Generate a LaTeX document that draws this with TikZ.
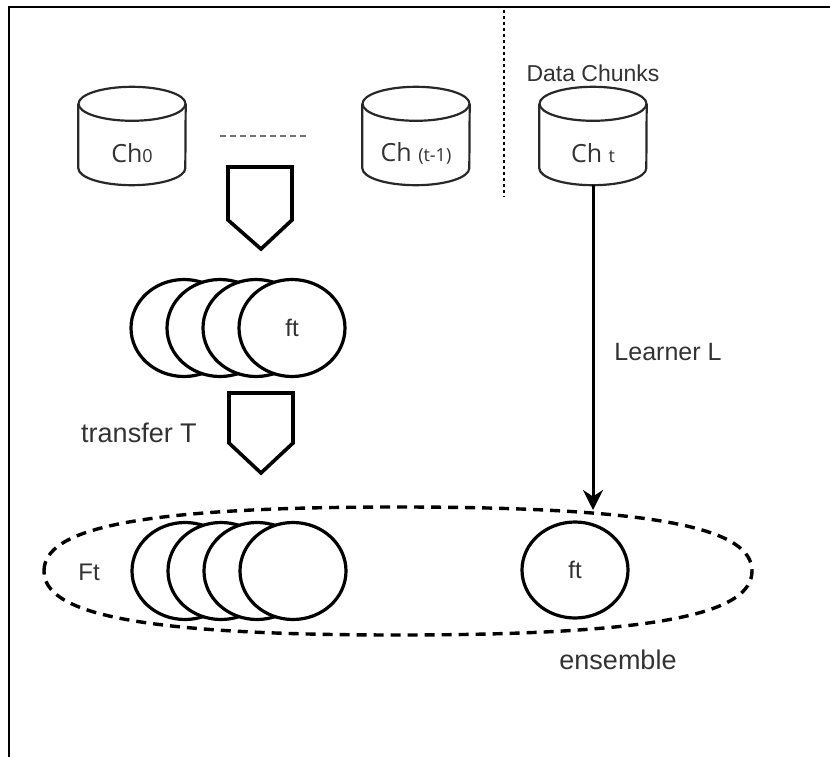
\documentclass[tikz,border=0pt]{standalone}
\usepackage{fontspec}
\setmainfont{Liberation Sans}
\newfontfamily\chfont{Open Sans}
\usetikzlibrary{shapes.geometric,arrows.meta,calc}

\definecolor{txtgray}{RGB}{50,50,50}
\definecolor{drumgray}{RGB}{40,40,40}

% outline of a data chunk drawn round a node of style chunk
\newcommand{\chunkdrum}[1]{%
  \draw[drum] ($(#1.north)+(0,17)$) ellipse [x radius=53.5, y radius=17];
  \draw[drum] ($(#1.north west)+(0,17)$) -- ($(#1.south west)+(0,17)$)
    arc [start angle=180, end angle=360, x radius=53.5, y radius=17]
    -- ($(#1.north east)+(0,17)$);
}

\begin{document}
\begin{tikzpicture}[x=1pt,y=1pt,
  chunk/.style={minimum width=107pt, minimum height=64pt, inner sep=0pt,
    text=txtgray, font=\chfont\fontsize{25}{30}\selectfont},
  drum/.style={draw=drumgray, line width=2.2pt},
  model/.style={ellipse, draw, line width=3.2pt, fill=white, inner sep=0pt,
    minimum width=106pt, minimum height=97pt, text=txtgray,
    font=\fontsize{24}{28}\selectfont},
  block/.style={draw, line width=3.6pt, fill=white, line join=miter},
  lbl/.style={text=txtgray, inner sep=0pt},
  ens/.style={draw, line width=3.4pt, dash pattern=on 10pt off 7pt}]

\useasboundingbox (0,0) rectangle (830,-757);

% frame
\draw [line width=2.4pt] (9,-757) -- (9,-7) -- (830,-7);

% data chunks
\node [chunk] (ch0) at (132,-153) {Ch{\fontsize{18}{20}\selectfont 0}};
\node [chunk] (ch1) at (416,-153) {Ch {\fontsize{18}{20}\selectfont (t-1)}};
\node [chunk] (cht) at (593,-153) {Ch {\fontsize{18}{20}\selectfont t}};
\chunkdrum{ch0}
\chunkdrum{ch1}
\chunkdrum{cht}

\draw [black!55, line width=2pt, dash pattern=on 6pt off 4pt] (220,-136) -- (310,-136);
\draw [line width=1.8pt, dash pattern=on 3pt off 3pt] (504,-10) -- (504,-197);
\node [lbl, font=\fontsize{23}{27}\selectfont] (datalbl) at (593,-73) {Data Chunks};

% first block arrow
\draw [block] (228,-167) -- (292,-167) -- (292,-220) -- (261,-249) -- (228,-220) -- cycle;

% old models
\foreach \i in {0,1,2}
  \node [model] (top\i) at (184+36*\i,-328) {};
\node [model] (top3) at (292,-328) {ft};

% transfer
\draw [block] (229,-393) -- (293,-393) -- (293,-443) -- (261,-473) -- (229,-443) -- cycle;
\node [lbl, font=\fontsize{27}{32}\selectfont] (translbl) at (139,-433) {transfer T};

% ensemble
\draw [ens] (44,-571) .. controls (44,-529.4) and (132.5,-507) .. (398,-507)
  .. controls (663.5,-507) and (752,-529.4) .. (752,-571)
  .. controls (752,-612.6) and (663.5,-635) .. (398,-635)
  .. controls (132.5,-635) and (44,-612.6) .. (44,-571);
\foreach \i in {0,...,3}
  \node [model] (low\i) at (185+36*\i,-571) {};
\node [model, minimum height=96pt] (fnew) at (575,-570) {ft};
\node [lbl, font=\fontsize{24}{28}\selectfont] (ftlbl) at (89,-572) {Ft};
\node [lbl, font=\fontsize{27}{32}\selectfont] (enslbl) at (618,-660) {ensemble};

% learner
\coordinate (hit) at (593,-510);
\draw [line width=3pt, -{Stealth[length=20pt, width=20pt]}] (cht.south) -- (hit);
\node [lbl, font=\fontsize{25}{30}\selectfont] (learnlbl) at (668,-352) {Learner L};

\end{tikzpicture}
\end{document}
